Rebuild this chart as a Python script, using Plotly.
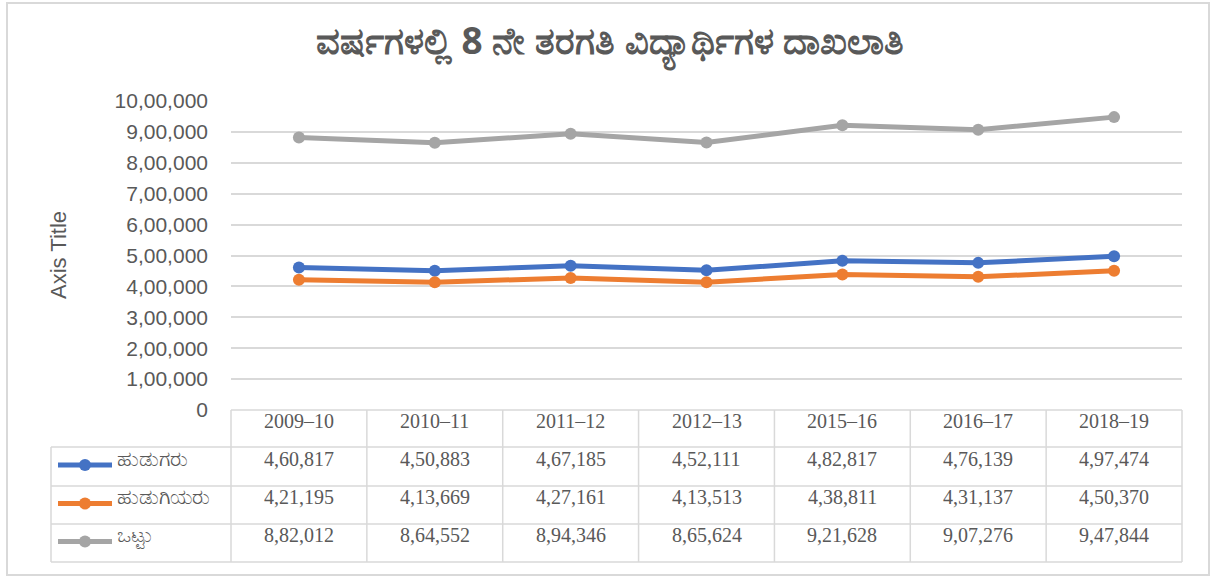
import plotly.graph_objects as go

# ---------------- data ----------------
categories = ["2009–10", "2010–11", "2011–12", "2012–13", "2015–16", "2016–17", "2018–19"]
series_names = ["ಹುಡುಗರು", "ಹುಡುಗಿಯರು", "ಒಟ್ಟು"]
boys = [460817, 450883, 467185, 452111, 482817, 476139, 497474]
girls = [421195, 413669, 427161, 413513, 438811, 431137, 450370]
total = [882012, 864552, 894346, 865624, 921628, 907276, 947844]
tick_vals = [0, 100000, 200000, 300000, 400000, 500000, 600000, 700000, 800000, 900000, 1000000]
tick_text = ["0", "1,00,000", "2,00,000", "3,00,000", "4,00,000", "5,00,000",
             "6,00,000", "7,00,000", "8,00,000", "9,00,000", "10,00,000"]
title_text = "ವರ್ಷಗಳಲ್ಲಿ 8 ನೇ ತರಗತಿ ವಿದ್ಯಾರ್ಥಿಗಳ ದಾಖಲಾತಿ"
y_title = "Axis Title"

colors = ["#4472C4", "#ED7D31", "#A5A5A5"]
all_series = [boys, girls, total]


def indian(n):
    s = str(n)
    if len(s) <= 3:
        return s
    last3 = s[-3:]
    rest = s[:-3]
    parts = []
    while len(rest) > 2:
        parts.insert(0, rest[-2:])
        rest = rest[:-2]
    if rest:
        parts.insert(0, rest)
    return ",".join(parts) + "," + last3


W, H = 1212, 579


def px(x):
    return x / W


def py(y):
    return (H - y) / H


plot_left, plot_right = 231, 1182
plot_top, plot_bottom = 101, 410
row_lines = [447, 486, 524, 562]
legend_left = 51
grid_col = "#D9D9D9"
text_col = "#595959"

fig = go.Figure()
for name, vals, c in zip(series_names, all_series, colors):
    fig.add_trace(go.Scatter(
        x=categories, y=vals, name=name, mode="lines+markers",
        line=dict(color=c, width=5), marker=dict(color=c, size=12),
        showlegend=False))

shapes = []
# outer border
shapes.append(dict(type="rect", xref="paper", yref="paper",
                   x0=px(7), x1=px(1209), y0=py(575), y1=py(3),
                   line=dict(color=grid_col, width=2), fillcolor="rgba(0,0,0,0)"))
# table horizontal lines
shapes.append(dict(type="line", xref="paper", yref="paper",
                   x0=px(plot_left), x1=px(plot_right), y0=py(plot_bottom), y1=py(plot_bottom),
                   line=dict(color=grid_col, width=1.5)))
for r in row_lines:
    shapes.append(dict(type="line", xref="paper", yref="paper",
                       x0=px(legend_left), x1=px(plot_right), y0=py(r), y1=py(r),
                       line=dict(color=grid_col, width=1.5)))
# table vertical lines
ncat = len(categories)
for i in range(ncat + 1):
    xx = plot_left + (plot_right - plot_left) * i / ncat
    shapes.append(dict(type="line", xref="paper", yref="paper",
                       x0=px(xx), x1=px(xx), y0=py(plot_bottom), y1=py(row_lines[-1]),
                       line=dict(color=grid_col, width=1.5)))
shapes.append(dict(type="line", xref="paper", yref="paper",
                   x0=px(legend_left), x1=px(legend_left), y0=py(row_lines[0]), y1=py(row_lines[-1]),
                   line=dict(color=grid_col, width=1.5)))

annotations = []
# header row
header_y = (plot_bottom + row_lines[0]) / 2 - 7.5
for cat in categories:
    annotations.append(dict(x=cat, xref="x", y=py(header_y), yref="paper",
                            text=cat, showarrow=False, xanchor="center", yanchor="middle",
                            font=dict(family="Liberation Serif", size=20, color=text_col)))
# data rows + legend keys
for k, (name, vals, c) in enumerate(zip(series_names, all_series, colors)):
    rc = (row_lines[k] + row_lines[k + 1]) / 2
    yc = rc - 8
    for cat, v in zip(categories, vals):
        annotations.append(dict(x=cat, xref="x", y=py(yc), yref="paper",
                                text=indian(v), showarrow=False, xanchor="center", yanchor="middle",
                                font=dict(family="Liberation Serif", size=20, color=text_col)))
    ky = rc - 1.5
    shapes.append(dict(type="line", xref="paper", yref="paper",
                       x0=px(58), x1=px(112), y0=py(ky), y1=py(ky),
                       line=dict(color=c, width=5)))
    shapes.append(dict(type="circle", xref="paper", yref="paper",
                       xsizemode="pixel", ysizemode="pixel",
                       xanchor=px(85), yanchor=py(ky),
                       x0=-6, x1=6, y0=-6, y1=6,
                       line=dict(color=c, width=0), fillcolor=c))
    annotations.append(dict(x=px(115), xref="paper", y=py(rc - 9), yref="paper",
                            text=name, showarrow=False, xanchor="left", yanchor="middle",
                            font=dict(family="Noto Sans", size=21, color=text_col)))

# y-axis title
annotations.append(dict(x=px(58), xref="paper", y=py(255), yref="paper",
                        text=y_title, textangle=-90, showarrow=False,
                        xanchor="center", yanchor="middle",
                        font=dict(family="Liberation Sans", size=22, color=text_col)))
# chart title
annotations.append(dict(x=px(610), xref="paper", y=py(42), yref="paper",
                        text="<b>" + title_text + "</b>", showarrow=False,
                        xanchor="center", yanchor="middle",
                        font=dict(family="Noto Sans", size=37, color=text_col)))

fig.update_layout(
    width=W, height=H,
    margin=dict(l=0, r=0, t=0, b=0, autoexpand=False),
    paper_bgcolor="white", plot_bgcolor="white",
    xaxis=dict(domain=[px(plot_left), px(plot_right)], type="category",
               range=[-0.5, ncat - 0.5], showticklabels=False, showgrid=False,
               zeroline=False, showline=False, ticks="", automargin=False),
    yaxis=dict(domain=[py(plot_bottom), py(plot_top)], range=[0, 1000000],
               tickvals=tick_vals, ticktext=tick_text, showgrid=True,
               gridcolor=grid_col, gridwidth=1.5, zeroline=False, showline=False,
               ticks="", ticklabelstandoff=22, automargin=False,
               tickfont=dict(family="Liberation Sans", size=21, color=text_col)),
    shapes=shapes, annotations=annotations,
)

fig.write_html("out.html", config={"displayModeBar": False},
               post_script="document.body.style.margin='0';document.body.style.overflow='hidden';")
